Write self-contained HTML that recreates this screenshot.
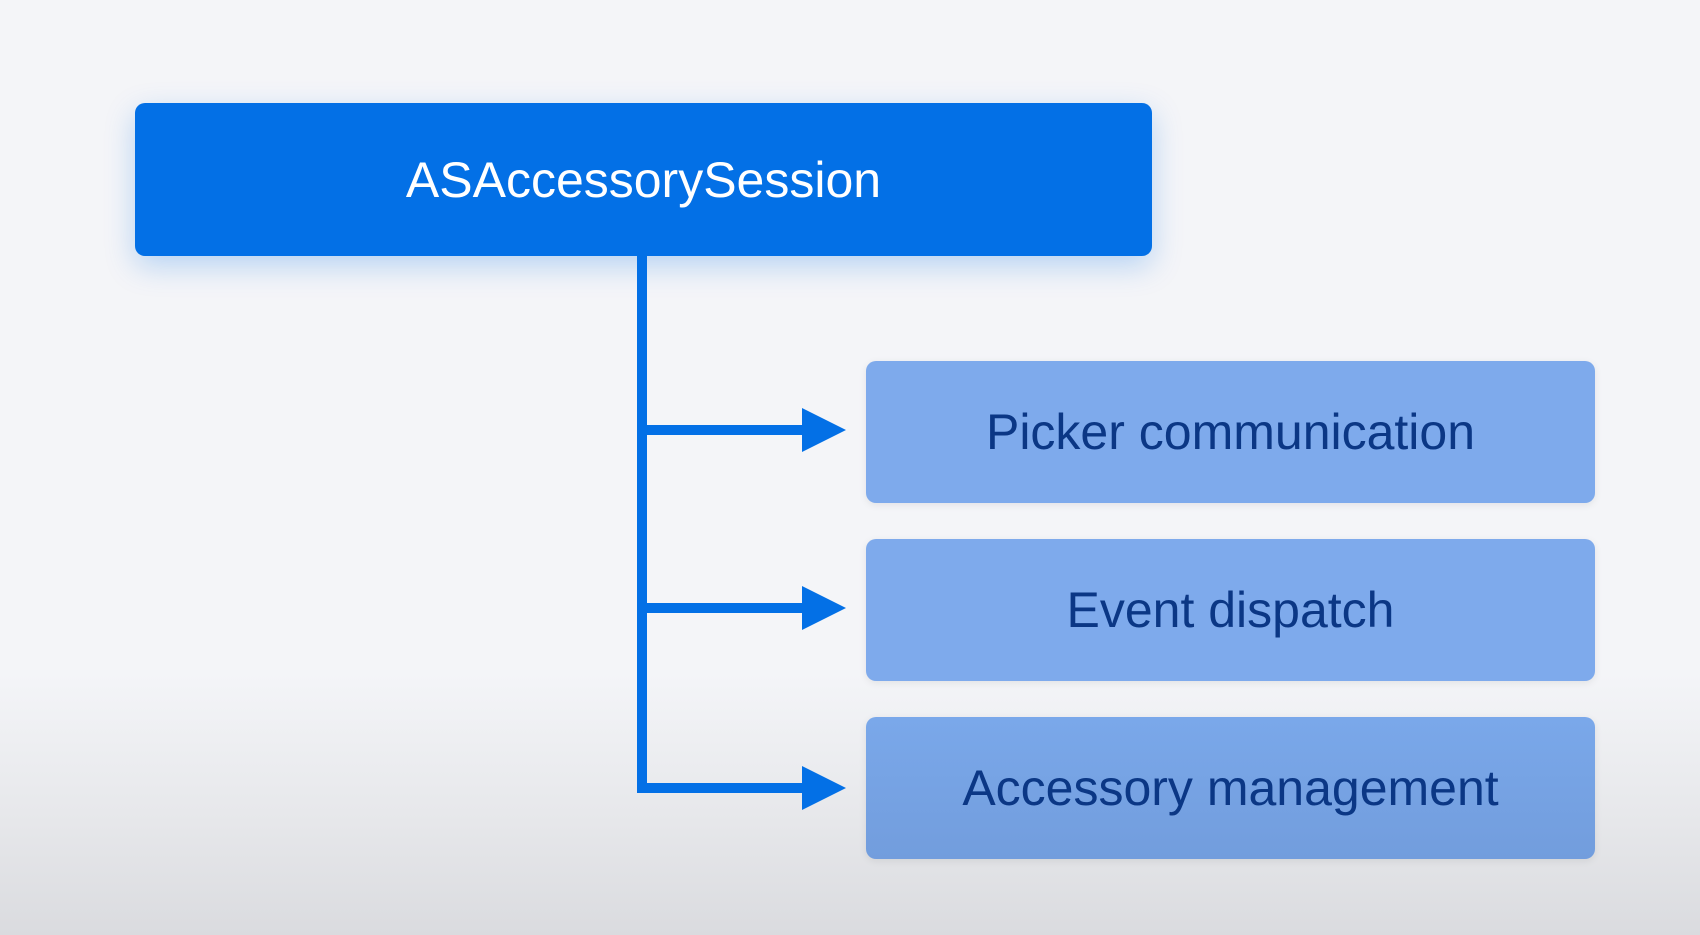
<!DOCTYPE html>
<html><head><style>
html,body{margin:0;padding:0;}
body{width:1700px;height:935px;position:relative;overflow:hidden;font-family:"Liberation Sans",sans-serif;
background:linear-gradient(to bottom,#f4f5f8 0%,#f4f5f8 72%,#e6e7ea 88%,#dadbdf 100%);}
.box{position:absolute;display:flex;align-items:center;justify-content:center;border-radius:10px;}
.main{left:135px;top:103px;width:1017px;height:153px;background:#0370e6;color:#fff;font-size:50px;box-shadow:0 10px 30px rgba(3,112,230,0.25);}
.child{left:866px;width:729px;height:142px;background:#7eaaec;color:#0b3785;font-size:50px;box-shadow:0 2px 8px rgba(0,0,0,0.08);}
</style></head><body>
<div class="box main">ASAccessorySession</div>
<svg width="1700" height="935" style="position:absolute;left:0;top:0">
<g fill="#0370e6">
<rect x="637" y="256" width="10" height="537"/>
<rect x="637" y="425" width="170" height="10"/>
<rect x="637" y="603" width="170" height="10"/>
<rect x="637" y="783" width="170" height="10"/>
<polygon points="802,408 846,430 802,452"/>
<polygon points="802,586 846,608 802,630"/>
<polygon points="802,766 846,788 802,810"/>
</g></svg>
<div class="box child" style="top:361px">Picker communication</div>
<div class="box child" style="top:539px">Event dispatch</div>
<div class="box child" style="top:717px;background:linear-gradient(#7aa8ea,#729ddd)">Accessory management</div>
</body></html>
